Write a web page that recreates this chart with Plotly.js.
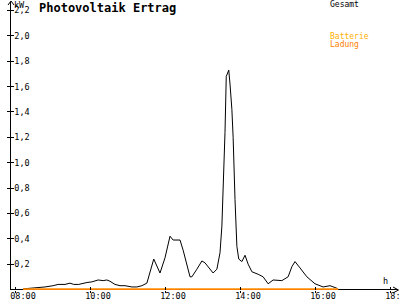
<!DOCTYPE html>
<html>
<head>
<meta charset="utf-8">
<script src="https://cdn.plot.ly/plotly-3.0.1.min.js"></script>
<style>html,body{margin:0;padding:0;background:#fff;}#chart{width:400px;height:300px;}</style>
</head>
<body>
<div id="chart"></div>
<script>
// Data
const times = ["08:13","08:32","08:48","09:01","09:09","09:20","09:28","09:34","09:42","09:55",
  "10:03","10:13","10:21","10:27","10:32","10:40","10:48","10:56","11:07","11:15",
  "11:23","11:31","11:34","11:42","11:52","12:00","12:08","12:13","12:24","12:29",
  "12:40","12:43","12:51","12:59","13:04","13:12","13:17","13:23","13:28","13:31",
  "13:33","13:34","13:36","13:38","13:42","13:44","13:47","13:49","13:50","13:52",
  "13:55","13:58","14:03","14:08","14:13","14:19","14:29","14:37","14:45","14:53",
  "15:07","15:17","15:23","15:28","15:36","15:47","16:00","16:13","16:24","16:35","16:37"];
const gesamt = [0.005,0.01,0.02,0.03,0.04,0.04,0.05,0.04,0.04,0.055,
  0.06,0.075,0.07,0.075,0.065,0.04,0.03,0.03,0.02,0.02,
  0.03,0.05,0.1,0.24,0.13,0.25,0.42,0.39,0.39,0.31,
  0.1,0.1,0.16,0.225,0.21,0.16,0.13,0.16,0.29,0.5,
  0.75,1.0,1.24,1.68,1.73,1.62,1.42,1.2,0.95,0.71,
  0.34,0.24,0.22,0.27,0.2,0.14,0.12,0.1,0.045,0.075,
  0.07,0.1,0.18,0.22,0.17,0.1,0.045,0.02,0.03,0.01,0.0];
const batterieTimes = ["08:13","16:37"];
const batterie = [0, 0];
const ladungTimes = ["08:13","16:37"];
const ladung = [0, 0];
const seriesNames = ["Gesamt","Batterie","Ladung"];
const xTickTimes = ["08:00","10:00","12:00","14:00","16:00","18:00"];
const xTickText = ["08:00","10:00","12:00","14:00","16:00","18:00"];
const yTickVals = [0.2,0.4,0.6,0.8,1.0,1.2,1.4,1.6,1.8,2.0,2.2];
const yTickText = ["0,2","0,4","0,6","0,8","1,0","1,2","1,4","1,6","1,8","2,0","2,2"];
const titleText = "Photovoltaik Ertrag";
const yUnit = "kW";
const xUnit = "h";

function toHours(s){ const p = s.split(":").map(Number); return p[0] + p[1]/60; }

const FONT = "DejaVu Sans Mono";
const COL = {gesamt:"#000000", batterie:"#FFB000", ladung:"#FF8000"};
const xRange = [7.893, 18.213];
const yRange = [-0.004, 2.267];

const traces = [
  {x: times.map(toHours), y: gesamt, type:"scatter", mode:"lines", name: seriesNames[0],
   line:{color:COL.gesamt, width:1}, hoverinfo:"skip", showlegend:false},
  {x: batterieTimes.map(toHours), y: batterie, type:"scatter", mode:"lines", name: seriesNames[1],
   line:{color:COL.batterie, width:2}, xaxis:"x2", yaxis:"y2", hoverinfo:"skip", showlegend:false},
  {x: ladungTimes.map(toHours), y: ladung, type:"scatter", mode:"lines", name: seriesNames[2],
   line:{color:COL.ladung, width:2}, xaxis:"x2", yaxis:"y2", hoverinfo:"skip", showlegend:false}
];

// paper coordinate helpers (plot area: x 11..398, y 2..290)
const PX = px => (px - 11) / 387;
const PY = py => (290 - py) / 288;

const layout = {
  width:400, height:300,
  margin:{l:11, r:2, t:2, b:10, pad:0},
  paper_bgcolor:"#fff", plot_bgcolor:"#fff",
  showlegend:false,
  title:{text:titleText, font:{family:FONT, size:12, color:"#000", weight:"bold"},
         x:39/400, xref:"container", xanchor:"left", y:1-8/300, yref:"container", yanchor:"middle"},
  xaxis:{range:xRange, tickvals:xTickTimes.map(toHours), ticktext:xTickText,
         ticks:"outside", ticklen:2, tickcolor:"#000", tickwidth:1,
         showline:false, showgrid:false, zeroline:false, ticklabeloverflow:"allow",
         tickfont:{family:FONT, size:8.5, color:"#000"}, ticklabelshift:8, ticklabelstandoff:-4, fixedrange:true},
  xaxis2:{range:xRange, overlaying:"x", anchor:"y", side:"bottom", tickvals:xTickTimes.map(toHours),
          ticks:"inside", ticklen:3, tickcolor:"#000", tickwidth:1, showticklabels:false,
          showline:false, showgrid:false, zeroline:false, fixedrange:true},
  yaxis:{range:yRange, tickvals:yTickVals, ticktext:yTickText,
         ticks:"outside", ticklen:3, tickcolor:"#000", tickwidth:1,
         showline:true, linecolor:"#000", linewidth:1, showgrid:false,
         zeroline:true, zerolinecolor:"#000", zerolinewidth:1, ticklabeloverflow:"allow",
         ticklabelposition:"inside", ticklabelstandoff:2, tickfont:{family:FONT, size:8.5, color:"#000"}, fixedrange:true},
  yaxis2:{range:yRange, overlaying:"y", anchor:"x", side:"left", tickvals:yTickVals,
          ticks:"inside", ticklen:3, tickcolor:"#000", tickwidth:1, showticklabels:false,
          showline:false, showgrid:false, zeroline:false, fixedrange:true},
  shapes:[
    {type:"path", xref:"paper", yref:"paper",
     path:`M ${PX(8)} ${PY(5)} L ${PX(11)} ${PY(1)} L ${PX(14)} ${PY(5)}`,
     line:{color:"#000", width:1}},
    {type:"path", xref:"paper", yref:"paper",
     path:`M ${PX(393)} ${PY(287)} L ${PX(398.5)} ${PY(290)} L ${PX(393)} ${PY(293)}`,
     line:{color:"#000", width:1}}
  ],
  annotations:[
    {text:yUnit, xref:"paper", yref:"paper", x:PX(13), y:PY(4.5), xanchor:"left", yanchor:"middle",
     showarrow:false, borderpad:0, font:{family:FONT, size:8.5, color:"#000"}},
    {text:xUnit, xref:"paper", yref:"paper", x:PX(385.5), y:PY(281), xanchor:"center", yanchor:"middle",
     showarrow:false, borderpad:0, font:{family:FONT, size:8.5, color:"#000"}},
    {text:seriesNames[0], xref:"paper", yref:"paper", x:PX(329), y:PY(5), xanchor:"left", yanchor:"middle",
     showarrow:false, borderpad:0, font:{family:FONT, size:8, color:COL.gesamt}},
    {text:seriesNames[1], xref:"paper", yref:"paper", x:PX(329), y:PY(36), xanchor:"left", yanchor:"middle",
     showarrow:false, borderpad:0, font:{family:FONT, size:8, color:COL.batterie}},
    {text:seriesNames[2], xref:"paper", yref:"paper", x:PX(329), y:PY(44.5), xanchor:"left", yanchor:"middle",
     showarrow:false, borderpad:0, font:{family:FONT, size:8, color:COL.ladung}}
  ]
};

Plotly.newPlot("chart", traces, layout, {staticPlot:true, displayModeBar:false});
</script>
</body>
</html>
